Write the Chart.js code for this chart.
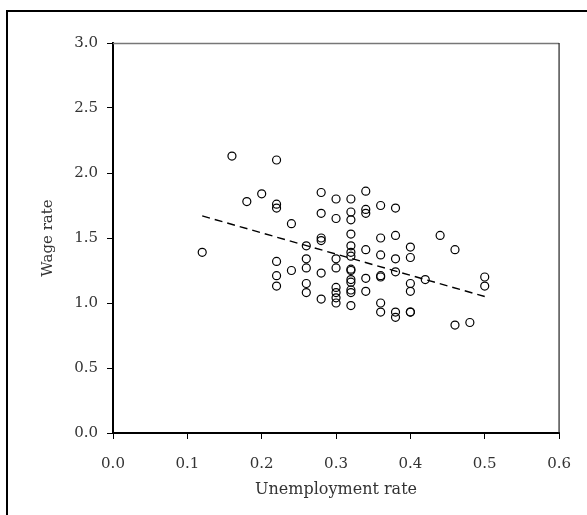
<!DOCTYPE html>
<html>
<head>
<meta charset="utf-8">
<script src="https://cdn.jsdelivr.net/npm/chart.js@4.4.0/dist/chart.umd.min.js"></script>
<style>
html,body{margin:0;padding:0;background:#fff;}
#wrap{width:587px;height:515px;position:relative;}
</style>
</head>
<body>
<div id="wrap"><canvas id="c" width="587" height="515"></canvas></div>
<script>
// Data
const unemployment = [
  0.12,
  0.16,
  0.18,
  0.20,
  0.22,0.22,0.22,0.22,0.22,0.22,
  0.24,0.24,
  0.26,0.26,0.26,0.26,0.26,
  0.28,0.28,0.28,0.28,0.28,0.28,
  0.30,0.30,0.30,0.30,0.30,0.30,0.30,0.30,
  0.32,0.32,0.32,0.32,0.32,0.32,0.32,0.32,0.32,0.32,0.32,0.32,0.32,0.32,
  0.34,0.34,0.34,0.34,0.34,0.34,
  0.36,0.36,0.36,0.36,0.36,0.36,0.36,
  0.38,0.38,0.38,0.38,0.38,0.38,
  0.40,0.40,0.40,0.40,0.40,0.40,
  0.42,
  0.44,
  0.46,0.46,
  0.48,
  0.50,0.50
];
const wage = [
  1.39,
  2.13,
  1.78,
  1.84,
  2.10,1.76,1.73,1.32,1.21,1.13,
  1.61,1.25,
  1.44,1.34,1.27,1.15,1.08,
  1.85,1.69,1.50,1.48,1.23,1.03,
  1.80,1.65,1.34,1.27,1.12,1.08,1.04,1.00,
  1.80,1.70,1.64,1.53,1.44,1.39,1.36,1.26,1.25,1.18,1.16,1.10,1.08,0.98,
  1.86,1.72,1.69,1.41,1.19,1.09,
  1.75,1.50,1.37,1.21,1.20,1.00,0.93,
  1.73,1.52,1.34,1.24,0.93,0.89,
  1.43,1.35,1.15,1.09,0.93,0.93,
  1.18,
  1.52,
  1.41,0.83,
  0.85,
  1.20,1.13
];
const trendX = [0.12, 0.50];
const trendY = [1.67, 1.05];
const xTicks = [0.0,0.1,0.2,0.3,0.4,0.5,0.6];
const yTicks = [0.0,0.5,1.0,1.5,2.0,2.5,3.0];
const xTitle = 'Unemployment rate';
const yTitle = 'Wage rate';

const FONT = "'DejaVu Serif', 'Liberation Serif', serif";

const pts = unemployment.map((x,i)=>({x:x, y:wage[i]}));
const trend = trendX.map((x,i)=>({x:x, y:trendY[i]}));

const framePlugin = {
  id:'frames',
  beforeDraw(chart){
    const ctx = chart.ctx;
    ctx.save();
    ctx.fillStyle='#fff';
    ctx.fillRect(0,0,chart.width,chart.height);
    ctx.strokeStyle='#000';
    ctx.lineWidth=2;
    ctx.beginPath();
    ctx.moveTo(7, chart.height+2);
    ctx.lineTo(7, 11);
    ctx.lineTo(chart.width+2, 11);
    ctx.stroke();
    ctx.restore();
  },
  afterDatasetsDraw(chart){
    const a = chart.chartArea, ctx = chart.ctx;
    ctx.save();
    ctx.lineWidth=1.5;
    ctx.strokeStyle='#777';
    ctx.beginPath();
    ctx.moveTo(a.left, a.top+0.5);
    ctx.lineTo(a.right, a.top+0.5);
    ctx.stroke();
    ctx.strokeStyle='#222';
    ctx.lineWidth=1.2;
    ctx.beginPath();
    ctx.moveTo(a.right, a.top);
    ctx.lineTo(a.right, a.bottom);
    ctx.stroke();
    ctx.restore();
  }
};

new Chart(document.getElementById('c'), {
  type:'scatter',
  data:{
    datasets:[
      {
        type:'line',
        data:trend,
        borderColor:'#000',
        borderWidth:1.4,
        borderDash:[8,5],
        pointRadius:0,
        fill:false,
        order:1
      },
      {
        data:pts,
        pointStyle:'circle',
        pointRadius:4,
        pointHoverRadius:4,
        borderColor:'#000',
        borderWidth:1.2,
        backgroundColor:'rgba(255,255,255,0)',
        order:0
      }
    ]
  },
  options:{
    responsive:false,
    animation:false,
    events:[],
    layout:{padding:{top:43,right:24,left:0,bottom:0}},
    plugins:{legend:{display:false},tooltip:{enabled:false}},
    scales:{
      x:{
        type:'linear',
        min:0,max:0.6,
        afterBuildTicks(s){ s.ticks = xTicks.map(v=>({value:v})); },
        afterFit(s){ s.height = 82; },
        ticks:{
          color:'#333',
          font:{family:FONT,size:15},
          padding:16,
          callback:v=>Number(v).toFixed(1),
          maxRotation:0
        },
        grid:{drawOnChartArea:false,drawTicks:true,tickLength:6,color:'#000',lineWidth:1},
        border:{display:true,color:'#000',width:2},
        title:{display:true,text:xTitle,color:'#333',font:{family:FONT,size:16},padding:{top:0,bottom:16}}
      },
      y:{
        type:'linear',
        min:0,max:3,
        afterBuildTicks(s){ s.ticks = yTicks.map(v=>({value:v})); },
        afterFit(s){ s.width = 113; },
        ticks:{
          color:'#333',
          font:{family:FONT,size:15},
          padding:9,
          callback:v=>Number(v).toFixed(1)
        },
        grid:{drawOnChartArea:false,drawTicks:true,tickLength:6,color:'#000',lineWidth:1},
        border:{display:true,color:'#000',width:2},
        title:{display:true,text:yTitle,color:'#333',font:{family:FONT,size:15},padding:{top:39,bottom:0}}
      }
    }
  },
  plugins:[framePlugin]
});
</script>
</body>
</html>
